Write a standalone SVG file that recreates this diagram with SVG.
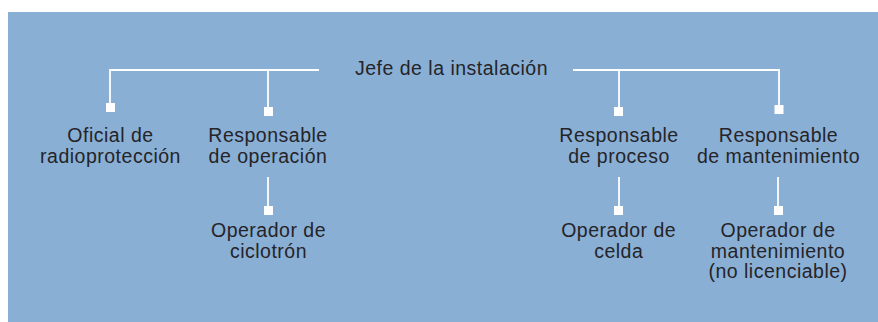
<svg xmlns="http://www.w3.org/2000/svg" width="878" height="322" viewBox="0 0 878 322">
<style>
.t{font-family:"Liberation Sans",Arial,Helvetica,sans-serif;font-size:19.5px;letter-spacing:0.5px;fill:#252428;text-anchor:middle}
.c{fill:none;stroke:#ffffff;stroke-width:1.8}
.m{fill:#ffffff}
</style>
<rect x="0" y="0" width="878" height="322" fill="#ffffff"/>
<rect x="8" y="12" width="870" height="310" fill="#89afd5"/>
<g id="connectors">
<path class="c" d="M319 70H110V104"/>
<path class="c" d="M268 70V108"/>
<path class="c" d="M573 70H779V106"/>
<path class="c" d="M619 70V108"/>
<path class="c" d="M268 177V207"/>
<path class="c" d="M619 177V207"/>
<path class="c" d="M778 177V207"/>
<rect class="m" x="106" y="103" width="9" height="9"/>
<rect class="m" x="264" y="107" width="9" height="9"/>
<rect class="m" x="614" y="107" width="9" height="9"/>
<rect class="m" x="774.5" y="105" width="9" height="9"/>
<rect class="m" x="264" y="206" width="9" height="9"/>
<rect class="m" x="614" y="206" width="9" height="9"/>
<rect class="m" x="774" y="206" width="9" height="9"/>
</g>
<g id="jefe"><text class="t" x="451.5" y="75">Jefe de la instalación</text></g>
<g id="oficial"><text class="t" x="110.5" y="141.5">Oficial de</text><text class="t" x="110.5" y="162.5">radioprotección</text></g>
<g id="resp-operacion"><text class="t" x="268" y="141.5">Responsable</text><text class="t" x="268" y="162.5">de operación</text></g>
<g id="resp-proceso"><text class="t" x="619" y="141.5">Responsable</text><text class="t" x="619" y="162.5">de proceso</text></g>
<g id="resp-mantenimiento"><text class="t" x="778.5" y="141.5">Responsable</text><text class="t" x="778.5" y="162.5">de mantenimiento</text></g>
<g id="op-ciclotron"><text class="t" x="268.5" y="237">Operador de</text><text class="t" x="268.5" y="257.5">ciclotrón</text></g>
<g id="op-celda"><text class="t" x="618.7" y="237">Operador de</text><text class="t" x="618.7" y="257.5">celda</text></g>
<g id="op-mantenimiento"><text class="t" x="778" y="237">Operador de</text><text class="t" x="778" y="257.5">mantenimiento</text><text class="t" x="778" y="278">(no licenciable)</text></g>
</svg>
